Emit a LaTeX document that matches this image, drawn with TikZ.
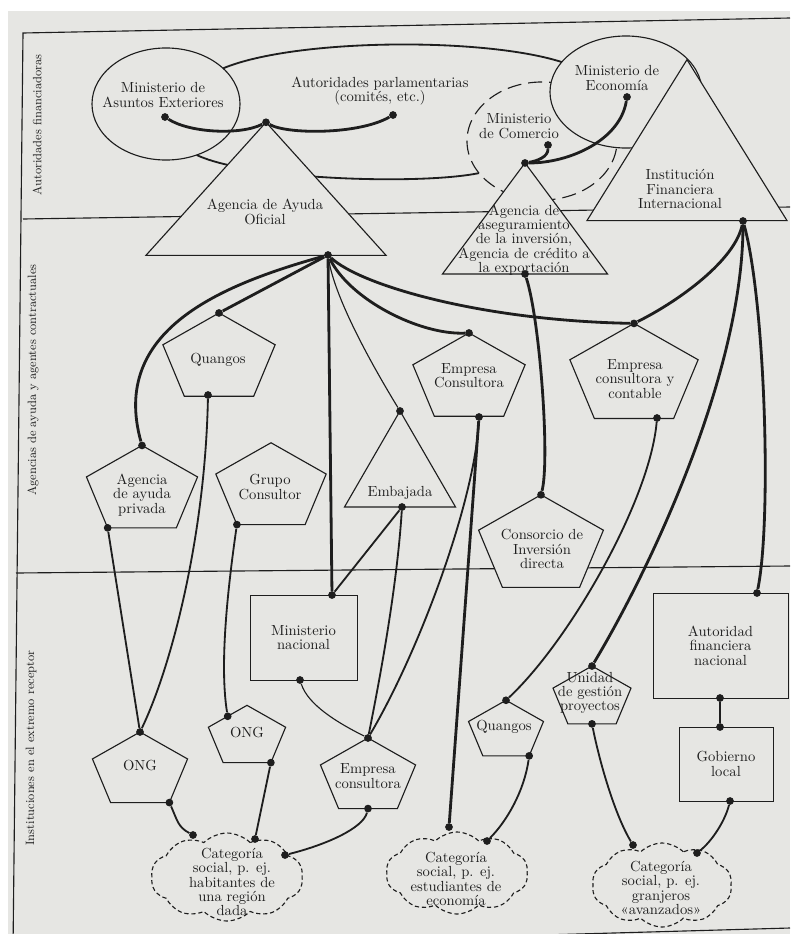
\documentclass[tikz,border=0pt]{standalone}
\usepackage{fontspec}
\usepackage{tikz}
\usetikzlibrary{shapes.geometric,shapes.symbols}

\definecolor{paper}{RGB}{230,230,227}
\definecolor{ink}{RGB}{30,30,30}
\newcommand{\txtfont}{\fontsize{10.4}{10.2}\selectfont}

\tikzset{
	shp/.style={draw=ink, fill=paper, line width=0.8pt, inner sep=0, outer sep=0},
	tri/.style={shp, regular polygon, regular polygon sides=3, minimum size=5cm},
	pent/.style={shp, regular polygon, regular polygon sides=5, yscale=0.78},
	caja/.style={shp, line width=0.6pt, rectangle, align=center, font=\txtfont, text=ink},
	ovalo/.style={shp, ellipse},
	nube/.style={shp, cloud, cloud puffs=10, cloud puff arc=90, cloud ignores aspect, dash pattern=on 3pt off 2pt},
	txt/.style={align=center, inner sep=0, font=\txtfont, text=ink},
	lado/.style={rotate=90, inner sep=0, font=\fontsize{8.6}{10}\selectfont, text=ink},
	link/.style={draw=ink, line width=2pt},
	fino/.style={draw=ink, line width=1.3pt},
	delgado/.style={draw=ink, line width=0.8pt},
	dot/.style={circle, fill=ink, inner sep=0, minimum size=5.5pt}
}

\begin{document}
\begin{tikzpicture}[x=0.025cm, y=-0.025cm]
			\useasboundingbox (0,0) rectangle (790,934);
			\fill[white] (0,0) rectangle (790,934);
			\fill[paper] (8,11) rectangle (790,934);
			
			% marco
			\begin{scope}[draw=ink, line width=0.8pt]
				\draw (790,18) -- (23,33) -- (13,950);
				\draw (23,219) -- (790,207);
				\draw (16,573) -- (790,566);
				\draw (13,950) -- (790,928);
			\end{scope}
			
			\node[lado] (fin) at (37,125) {Autoridades financiadoras};
			\node[lado] (agen) at (33,380) {Agencias de ayuda y agentes contractuales};
			\node[lado] (inst) at (31,748) {Instituciones en el extremo receptor};
			
			\node[ovalo, dash pattern=on 10pt off 5pt, minimum width=3.75cm, minimum height=2.95cm] (com) at (542,141) {};
			\node[ovalo, minimum width=3.8cm, minimum height=2.8cm] (eco) at (626,92) {};
			\node[ovalo, minimum width=3.7cm, minimum height=2.8cm] (mae) at (166,104) {};
			
			\draw[fino] (mae.32) .. controls +(72,-30) and +(-78,-25) .. (eco.155);
			\draw[fino] (mae.-59) .. controls +(53,25) and +(-58,12) .. (com.207);
			
			\begin{scope}
				\node[tri, xscale=1.386, yscale=0.887] (aao) at (266,211) {};
				\node[tri, xscale=0.953, yscale=0.74] (aseg) at (525,237) {};
				\node[tri, xscale=1.155, yscale=1.073] (ifi) at (687,167) {};
				\node[tri, xscale=0.641, yscale=0.64] (emb) at (400,475) {};
			\end{scope}
			
			\begin{scope}
				\node[pent, minimum size=2.95cm] (quangos) at (219,359) {};
				\node[pent, minimum size=2.92cm] (privada) at (142,491) {};
				\node[pent, minimum size=2.9cm] (grupo) at (271,488) {};
				\node[pent, minimum size=2.95cm] (empcons) at (469,379) {};
				\node[pent, minimum size=3.37cm] (contable) at (634,376) {};
				\node[pent, minimum size=3.28cm] (consorcio) at (541,546) {};
				\node[pent, minimum size=2.5cm] (ongA) at (140,771) {};
				\node[pent, minimum size=2.03cm] (ongB) at (247,737) {};
				\node[pent, minimum size=2.5cm] (empresa) at (368,777) {};
				\node[pent, minimum size=1.97cm] (quangosB) at (506,731) {};
				\node[pent, minimum size=2.05cm] (unidad) at (592,698) {};
			\end{scope}
			
			\node[caja, minimum width=2.675cm, minimum height=2.125cm] (minnac) at (303.5,637.5) {Ministerio\\nacional};
			\node[caja, minimum width=3.375cm, minimum height=2.625cm] (autfin) at (720.5,645.5) {Autoridad\\financiera\\nacional};
			\node[caja, minimum width=2.35cm, minimum height=1.85cm] (gob) at (726,764) {Gobierno\\local};
			
			\node[nube, minimum width=3.8cm, minimum height=2.2cm] (catA) at (227,877) {};
			\node[nube, minimum width=3.55cm, minimum height=2.05cm] (catB) at (457,873) {};
			\node[nube, minimum width=3.5cm, minimum height=2.1cm] (catC) at (662,885) {};
			
			\begin{scope}[every node/.style={txt}]
				\node (maeT) at (163,95) {Ministerio de\\Asuntos Exteriores};
				\node (parl) at (380,91) {Autoridades parlamentarias\\(comités, etc.)};
				\node (comT) at (519,126) {Ministerio\\de Comercio};
				\node (ecoT) at (617,78) {Ministerio de\\Economía};
				\node (aaoT) at (265,212) {Agencia de Ayuda\\Oficial};
				\node (asegT) at (524,240) {Agencia de\\aseguramiento\\de la inversión,\\Agencia de crédito a\\la exportación};
				\node (ifiT) at (680,189) {Institución\\Financiera\\Internacional};
				\node (quangosT) at (218,360) {Quangos};
				\node (privadaT) at (142,495) {Agencia\\de ayuda\\privada};
				\node (grupoT) at (270,487) {Grupo\\Consultor};
				\node (embT) at (400,493) {Embajada};
				\node (empconsT) at (469,376) {Empresa\\Consultora};
				\node (contableT) at (635,379) {Empresa\\consultora y\\contable};
				\node (consorcioT) at (542,549) {Consorcio de\\Inversión\\directa};
				\node (ongAT) at (140,765) {ONG};
				\node (ongBT) at (247,732) {ONG};
				\node (empresaT) at (368,776) {Empresa\\consultora};
				\node (quangosBT) at (504,727) {Quangos};
				\node (unidadT) at (590,693) {Unidad\\de gestión\\proyectos};
				\node (catAT) at (232,882) {Categoría\\social, p. ej.\\habitantes de\\una región\\dada};
				\node (catBT) at (456,879) {Categoría\\social, p. ej.\\estudiantes de\\economía};
				\node (catCT) at (661,888) {Categoría\\social, p. ej.\\granjeros\\«avanzados»};
			\end{scope}
			
			\begin{scope}[every node/.style={dot}]
				\node (maeD) at (165,117) {};
				\node (parlD) at (393,115) {};
				\node (aaoD) at (aao.corner 1) {};
				\node (aaoHub) at (328,255) {};
				\node (comD) at (548,145) {};
				\node (ecoD) at (627,97) {};
				\node (asegD) at (aseg.corner 1) {};
				\node (asegHub) at (525,274) {};
				\node (ifiHub) at (743,221) {};
				\node (quangosD1) at (quangos.corner 1) {};
				\node (quangosD2) at (208,395) {};
				\node (privadaD1) at (privada.corner 1) {};
				\node (privadaD2) at (privada.corner 3) {};
				\node (grupoD) at (grupo.corner 3) {};
				\node (embD1) at (emb.corner 1) {};
				\node (embD2) at (402,507) {};
				\node (empconsD1) at (empcons.corner 1) {};
				\node (empconsD2) at (479,417) {};
				\node (contableD1) at (contable.corner 1) {};
				\node (contableD2) at (657,418) {};
				\node (consorcioD) at (consorcio.corner 1) {};
				\node (minnacD1) at (332,595) {};
				\node (minnacD2) at (300,680) {};
				\node (autfinD1) at (757,593) {};
				\node (autfinD2) at (720,698) {};
				\node (gobD1) at (720,727) {};
				\node (gobD2) at (730,801) {};
				\node (ongAD1) at (ongA.corner 1) {};
				\node (ongAD2) at (ongA.corner 4) {};
				\node (ongBD1) at (ongB.side 1) {};
				\node (ongBD2) at (ongB.corner 4) {};
				\node (empresaD1) at (empresa.corner 1) {};
				\node (empresaD2) at (empresa.side 3) {};
				\node (quangosBD1) at (quangosB.corner 1) {};
				\node (quangosBD2) at (quangosB.corner 4) {};
				\node (unidadD1) at (unidad.corner 1) {};
				\node (unidadD2) at (unidad.side 3) {};
				\node (catAD1) at (193,835) {};
				\node (catAD2) at (255,839) {};
				\node (catAD3) at (285,855) {};
				\node (catBD1) at (449,827) {};
				\node (catBD2) at (487,841) {};
				\node (catCD1) at (633,845) {};
				\node (catCD2) at (697,853) {};
			\end{scope}
			
			% autoridades
			\draw[link] (maeD) .. controls +(25,16) and +(-25,13) .. (aaoD);
			\draw[link] (aaoD) .. controls +(20,12) and +(-35,20) .. (parlD);
			\draw[link] (ecoD) .. controls +(-7,43) and +(45,0) .. (asegD);
			\draw[link] (comD) .. controls +(0,12) and +(12,-2) .. (asegD);
			
			% agencias
			\draw[link] (aaoHub) .. controls +(-108,30) and +(-32,-115) .. (privadaD1);
			\draw[link] (aaoHub) -- (quangosD1);
			\draw[link] (aaoHub) -- (minnacD1);
			\draw[delgado] (aaoHub) .. controls +(7,45) and +(-25,-41) .. (embD1);
			\draw[link] (aaoHub) .. controls +(22,45) and +(-49,2) .. (empconsD1);
			\draw[link] (aaoHub) .. controls +(32,30) and +(-154,-3) .. (contableD1);
			\draw[link] (ifiHub) .. controls +(-8,39) and +(46,-23) .. (contableD1);
			\draw[link] (ifiHub) .. controls +(0,150) and +(60,-100) .. (unidadD1);
			\draw[link] (ifiHub) .. controls +(22,79) and +(15,-73) .. (autfinD1);
			\draw[link] (asegHub) .. controls +(15,46) and +(9,-35) .. (consorcioD);
			
			% receptor
			\draw[fino] (quangosD2) .. controls +(-3,145) and +(30,-62) .. (ongAD1);
			\draw[fino] (privadaD2) -- (ongAD1);
			\draw[fino] (grupoD) .. controls +(-10,70) and +(-8,-50) .. (ongBD1);
			\draw[fino] (embD2) -- (minnacD1);
			\draw[fino] (embD2) .. controls +(-5,80) and +(12,-60) .. (empresaD1);
			\draw[fino] (empconsD2) .. controls +(-4,83) and +(52,-88) .. (empresaD1);
			\draw[link] (empconsD2) -- (catBD1);
			\draw[delgado] (minnacD2) .. controls +(8,25) and +(-30,-15) .. (empresaD1);
			\draw[fino] (contableD2) .. controls +(-7,82) and +(64,-60) .. (quangosBD1);
			\draw[fino] (quangosBD2) .. controls +(-5,35) and +(20,-20) .. (catBD2);
			\draw[fino] (unidadD2) .. controls +(8,40) and +(-18,-30) .. (catCD1);
			\draw[fino] (gobD2) .. controls +(-5,20) and +(15,-12) .. (catCD2);
			\draw[fino] (autfinD2) -- (gobD1);
			\draw[fino] (ongAD2) .. controls +(8,18) and +(-15,-8) .. (catAD1);
			\draw[fino] (ongBD2) -- (catAD2);
			\draw[fino] (empresaD2) .. controls +(-5,20) and +(40,-10) .. (catAD3);
		\end{tikzpicture}
\end{document}
